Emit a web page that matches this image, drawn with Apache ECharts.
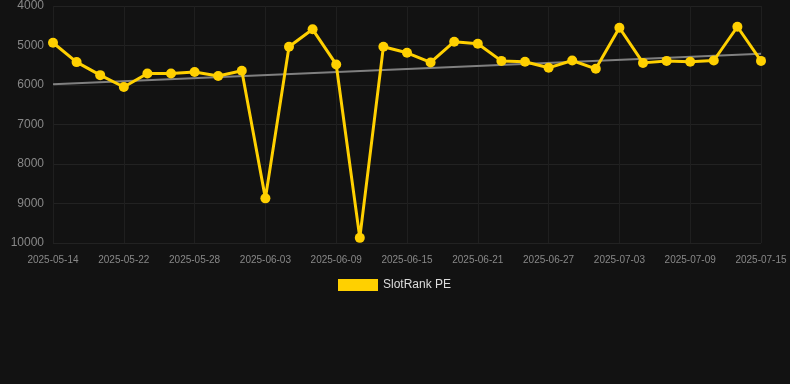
<!DOCTYPE html>
<html>
<head>
<meta charset="utf-8">
<script src="https://cdn.jsdelivr.net/npm/echarts@6/dist/echarts.min.js"></script>
<style>
html,body{margin:0;padding:0;background:#121212;}
#chart{width:790px;height:384px;}
</style>
</head>
<body>
<div id="chart"></div>
<script>
const dates = ["2025-05-14","2025-05-17","2025-05-20","2025-05-22","2025-05-24","2025-05-26","2025-05-28","2025-05-30","2025-06-01","2025-06-03","2025-06-05","2025-06-07","2025-06-09","2025-06-11","2025-06-13","2025-06-15","2025-06-17","2025-06-19","2025-06-21","2025-06-23","2025-06-25","2025-06-27","2025-06-29","2025-07-01","2025-07-03","2025-07-05","2025-07-07","2025-07-09","2025-07-11","2025-07-13","2025-07-15"];
const slotRankPE = [4930,5420,5750,6050,5710,5710,5670,5770,5640,8870,5030,4590,5480,9870,5030,5185,5430,4905,4955,5390,5410,5565,5380,5590,4550,5440,5390,5410,5380,4525,5390];
const seriesName = "SlotRank PE";

// linear regression trend from data
const n = slotRankPE.length;
let sx=0, sy=0, sxy=0, sxx=0;
slotRankPE.forEach((v,i)=>{sx+=i;sy+=v;sxy+=i*v;sxx+=i*i;});
const slope = (n*sxy - sx*sy)/(n*sxx - sx*sx);
const icpt = (sy - slope*sx)/n;
const trend = slotRankPE.map((v,i)=> (i===0||i===n-1) ? icpt+slope*i : null);

const chart = echarts.init(document.getElementById('chart'));
chart.setOption({
  backgroundColor:'#121212',
  animation:false,
  grid:{left:53,right:29,top:6,bottom:141,containLabel:false},
  legend:{
    data:[{name:seriesName,icon:'rect'}],
    top:274,left:333,itemWidth:40,itemHeight:12,itemGap:10,
    textStyle:{color:'#dddddd',fontSize:12,fontFamily:'Liberation Sans, Arial, sans-serif'}
  },
  xAxis:{
    type:'category',data:dates,boundaryGap:false,
    axisLine:{show:false},axisTick:{show:false},
    axisLabel:{interval:2,color:'#888888',fontSize:10,fontFamily:'Liberation Sans, Arial, sans-serif',margin:12},
    splitLine:{show:true,interval:2,lineStyle:{color:'#1f1f1f',width:1}}
  },
  yAxis:{
    type:'value',inverse:true,min:4000,max:10000,interval:1000,
    axisLine:{show:false},axisTick:{show:false},
    axisLabel:{color:'#888888',fontSize:12,fontFamily:'Liberation Sans, Arial, sans-serif',margin:9,formatter:v=>String(v)},
    splitLine:{lineStyle:{color:'#222222',width:1}}
  },
  series:[
    {
      name:'trend',type:'line',data:trend,connectNulls:true,symbol:'none',
      lineStyle:{color:'#808080',width:2},z:1,silent:true
    },
    {
      name:seriesName,type:'line',data:slotRankPE,symbol:'circle',symbolSize:10,
      itemStyle:{color:'#ffd000'},lineStyle:{color:'#ffd000',width:3},z:2
    }
  ]
});
</script>
</body>
</html>
